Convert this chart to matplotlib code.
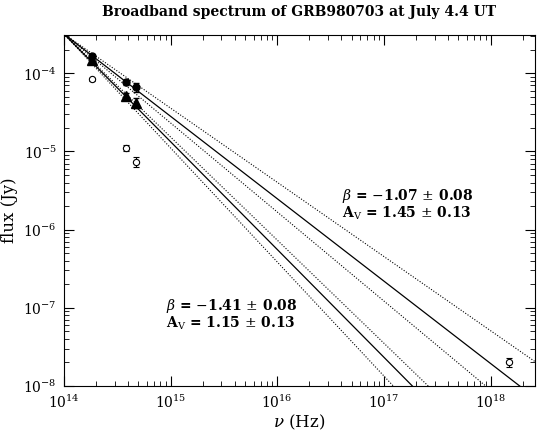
import matplotlib.pyplot as plt
import numpy as np

plt.rcParams['font.family'] = 'DejaVu Serif'
plt.rcParams['mathtext.fontset'] = 'dejavuserif'

# Data
nu_opt = [1.82e14, 3.8e14, 4.7e14]
flux_circle = [1.66e-4, 7.7e-5, 6.6e-5]
err_circle = [1.0e-5, 6e-6, 9e-6]
flux_tri = [1.47e-4, 5.2e-5, 4.2e-5]
err_tri = [8e-6, 4e-6, 6e-6]
flux_open = [8.4e-5, 1.12e-5, 7.4e-6]
err_open = [4e-6, 1.0e-6, 1.1e-6]
nu_x = [1.5e18]
flux_x = [2.0e-8]
err_x = [2.5e-9]

# power-law models (pivot at 1e14 Hz)
nu0, f0 = 1e14, 3.2e-4
slopes_solid = [-1.055, -1.38]
slopes_dotted = [-0.95, -1.14, -1.32, -1.46]

fig = plt.figure(figsize=(5.37, 4.32), dpi=100)
ax = fig.add_axes([0.119, 0.107, 0.877, 0.812])

nu = np.logspace(14, 18.5, 200)
for s in slopes_solid:
    ax.plot(nu, f0 * (nu / nu0) ** s, color='black', lw=0.9)
for s in slopes_dotted:
    ax.plot(nu, f0 * (nu / nu0) ** s, color='black', lw=0.8, ls=(0, (1, 1.5)))

ax.errorbar(nu_opt, flux_circle, yerr=err_circle, fmt='o', color='black', ms=5, capsize=2.5, elinewidth=0.8)
ax.errorbar(nu_opt, flux_tri, yerr=err_tri, fmt='^', color='black', ms=6.5, capsize=2.5, elinewidth=0.8)
ax.errorbar(nu_opt, flux_open, yerr=err_open, fmt='o', mfc='white', mec='black', color='black',
            ms=4.5, capsize=2.5, elinewidth=0.8, mew=0.8)
ax.errorbar(nu_x, flux_x, yerr=err_x, fmt='o', mfc='white', mec='black', color='black',
            ms=4.5, capsize=2.5, elinewidth=0.8, mew=0.8)

ax.set_xscale('log')
ax.set_yscale('log')
ax.set_xlim(1e14, 2.6e18)
ax.set_ylim(1e-8, 3.1e-4)

ax.tick_params(which='both', direction='in', top=True, right=True, labelsize=10)
ax.tick_params(which='major', length=7)
ax.tick_params(which='minor', length=3.5)
ax.tick_params(axis='x', pad=6)
ax.tick_params(axis='y', pad=5)

ax.set_title('Broadband spectrum of GRB980703 at July 4.4 UT', fontsize=10, fontweight='bold', pad=14)
ax.set_xlabel(r'$\nu$ (Hz)', fontsize=12, labelpad=1)
ax.set_ylabel('flux (Jy)', fontsize=12)

ax.text(0.59, 0.53, r'$\beta$ = $-$1.07 $\pm$ 0.08', transform=ax.transAxes, fontsize=10, fontweight='bold')
ax.text(0.59, 0.48, r'A$_{\rm V}$ = 1.45 $\pm$ 0.13', transform=ax.transAxes, fontsize=10, fontweight='bold')
ax.text(0.217, 0.215, r'$\beta$ = $-$1.41 $\pm$ 0.08', transform=ax.transAxes, fontsize=10, fontweight='bold')
ax.text(0.217, 0.165, r'A$_{\rm V}$ = 1.15 $\pm$ 0.13', transform=ax.transAxes, fontsize=10, fontweight='bold')

plt.savefig('out.png', dpi=100)
